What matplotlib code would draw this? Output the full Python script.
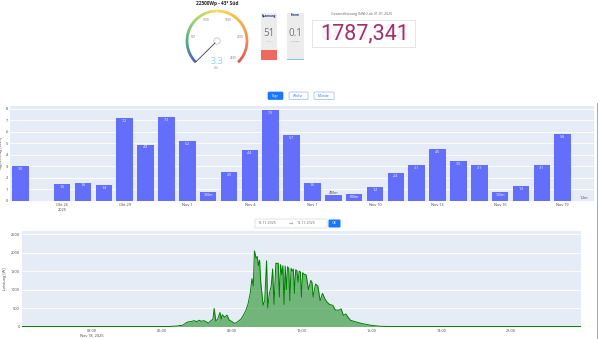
import matplotlib
matplotlib.use('Agg')
import matplotlib.pyplot as plt
import numpy as np
import pandas as pd
from matplotlib.patches import Rectangle, FancyBboxPatch, Circle
from matplotlib.collections import LineCollection
from matplotlib.colors import LinearSegmentedColormap

plt.rcParams['font.family'] = ['Open Sans', 'DejaVu Sans']

# ---------------- data ----------------
plant_title = "22500Wp - 43° Süd"
gauge_value = 3.3
gauge_max = 2500
gauge_ticks = [500, 1000, 1500, 2000, 2500]
voltage = "51"
current = "0.1"
total_label = "Gesamtleistung (kWh) ab 01.01.2025"
total_value = "1787,341"
buttons = ["Tage", "Woche", "Monate"]
date_from = "18.11.2025"
date_to = "18.11.2025"

days = pd.date_range("2025-10-24", periods=28, freq="D")
daily_kwh = [3.0, np.nan, 1.5, 1.6, 1.4, 7.2, 4.9, 7.3, 5.2, 0.76, 2.5, 4.4, 7.9, 5.7,
             1.6, 0.48, 0.6, 1.2, 2.4, 3.1, 4.5, 3.5, 3.1, 0.75, 1.3, 3.1, 5.8, 0.0012]
month_de = {10: "Okt", 11: "Nov"}

power_hours = [0.0, 6.3, 6.6, 6.9, 7.1, 7.3, 7.4, 7.5, 7.6, 7.7, 7.8, 7.9, 8.0, 8.1, 8.2,
               8.25, 8.32, 8.4, 8.5, 8.55, 8.6, 8.7, 8.8, 8.9, 9.0, 9.1, 9.2, 9.3, 9.4,
               9.5, 9.6, 9.7, 9.8, 9.87, 9.93, 9.98, 10.05, 10.1, 10.15, 10.2, 10.25,
               10.3, 10.35, 10.42, 10.5, 10.55, 10.62, 10.7, 10.76, 10.82, 10.9, 10.95,
               11.0, 11.05, 11.1, 11.15, 11.2, 11.25, 11.3, 11.35, 11.4, 11.45, 11.5,
               11.55, 11.6, 11.65, 11.7, 11.75, 11.8, 11.85, 11.9, 11.95, 12.0, 12.05,
               12.1, 12.2, 12.3, 12.4, 12.45, 12.5, 12.6, 12.7, 12.8, 12.9, 13.0, 13.1,
               13.2, 13.35, 13.45, 13.6, 13.7, 13.8, 13.9, 14.0, 14.1, 14.3, 14.6, 15.0,
               15.4, 15.7, 24.0]
power_watt = [0, 0, 10, 35, 120, 140, 160, 130, 170, 140, 160, 130, 90, 150, 200,
              490, 150, 200, 380, 200, 320, 250, 310, 170, 140, 90, 100, 150, 200,
              300, 420, 600, 900, 1300, 1100, 2050, 1850, 1900, 1650, 1800, 1200,
              900, 580, 700, 1780, 500, 900, 1100, 1560, 600, 1720, 1700,
              1720, 800, 1680, 1400, 1650, 600, 1640, 1000, 1620, 1580, 700,
              1580, 1500, 1560, 900, 1540, 1520, 1200, 1500, 1480, 800, 1460,
              1420, 1400, 1000, 1250, 1200, 800, 1150, 1100, 700, 900, 750, 660,
              600, 570, 450, 440, 480, 300, 340, 250, 170, 130, 80, 30,
              5, 0, 0]

# ---------------- figure ----------------
W, H = 600, 339
fig = plt.figure(figsize=(6, 3.39), dpi=100)
fig.patch.set_facecolor('white')


def rect(x0, y0, x1, y1):
    return [x0 / W, 1 - y1 / H, (x1 - x0) / W, (y1 - y0) / H]


ov = fig.add_axes([0, 0, 1, 1])
ov.set_xlim(0, W)
ov.set_ylim(H, 0)
ov.axis('off')
ov.patch.set_alpha(0)

# ---- gauge ----
cx, cy, R = 217, 41, 30
ov.text(cx, 3.5, plant_title, ha='center', va='center', fontsize=3.4,
        fontweight='bold', color='#222')
cmap = LinearSegmentedColormap.from_list(
    'g', ['#1a28b8', '#1a9a5a', '#8cc63f', '#f2d41a', '#f5a000', '#f26522', '#e01818'])
angs = np.linspace(225, -45, 240)
pts = np.column_stack([cx + R * np.cos(np.radians(angs)), cy - R * np.sin(np.radians(angs))])
segs = np.stack([pts[:-1], pts[1:]], axis=1)
lc = LineCollection(segs, colors=cmap(np.linspace(0, 1, len(segs))), linewidths=1.9,
                    capstyle='butt')
ov.add_collection(lc)
for t in gauge_ticks:
    a = np.radians(225 - 270 * t / gauge_max)
    ov.text(cx + 23.5 * np.cos(a), cy - 23.5 * np.sin(a), str(t), ha='center',
            va='center', fontsize=2.2, color='#777')
na = np.radians(225 - 270 * gauge_value / gauge_max)
ov.plot([cx + 3 * np.cos(na), cx + 29 * np.cos(na)],
        [cy - 3 * np.sin(na), cy - 29 * np.sin(na)], color='#3a3a4a', lw=0.6)
ov.add_patch(Circle((cx, cy), 3.2, facecolor='white', edgecolor='#aaa', lw=0.4))
ov.text(cx, 61.5, f"{gauge_value:.1f}", ha='center', va='center', fontsize=6.5,
        color='#8fd3ee')
ov.text(cx, 68, "Watt", ha='center', va='center', fontsize=1.8, color='#999')

# ---- Spannung / Strom boxes ----
for (x0, title, val, unit, barcol, barh) in [
        (260.5, "Spannung", voltage, "Volt", '#ef6a5c', 10),
        (286.7, "Strom", current, "Ampere", '#8ec6ea', 1.2)]:
    ov.add_patch(Rectangle((x0, 12.5), 16.8, 47.5, facecolor='#ececec', edgecolor='none'))
    ov.add_patch(Rectangle((x0, 60 - barh), 16.8, barh, facecolor=barcol, edgecolor='none'))
    ov.text(x0 + 8.4, 15.5, title, ha='center', va='center', fontsize=2.1,
            fontweight='bold', color='#1b2a66')
    ov.text(x0 + 8.4, 34, val, ha='center', va='center', fontsize=7, color='#777')
    ov.text(x0 + 8.4, 41.5, unit, ha='center', va='center', fontsize=1.6, color='#999')

# ---- total display ----
ov.text(362, 14.5, total_label, ha='center', va='center', fontsize=2.6, color='#666')
ov.add_patch(Rectangle((311.7, 19.5), 103.3, 27, facecolor='white', edgecolor='#e2e2e2',
                       lw=0.6))
seg_font = dict(family=['Roboto', 'DejaVu Sans'], fontweight='normal', fontsize=15.5)
ov.text(365, 33.5, "8888,888", ha='center', va='center', color='#f6eef2', **seg_font)
ov.text(365, 33.5, total_value, ha='center', va='center', color='#a2306a', **seg_font)

# ---- buttons ----
bx = [(268, 283), (289, 308), (314, 334)]
for (x0, x1), lab in zip(bx, buttons):
    active = lab == "Tage"
    ov.add_patch(FancyBboxPatch((x0, 92), x1 - x0, 7.5, boxstyle='round,pad=0,rounding_size=1',
                                facecolor='#1677ff' if active else 'white',
                                edgecolor='#1677ff' if active else '#8fb8f0', lw=0.5))
    ov.text((x0 + x1) / 2, 95.8, lab, ha='center', va='center', fontsize=2.3,
            color='white' if active else '#2f6fd0')

# ---- date picker ----
ov.add_patch(FancyBboxPatch((255, 219), 72, 9, boxstyle='round,pad=0,rounding_size=1',
                            facecolor='white', edgecolor='#d9d9d9', lw=0.5))
ov.text(258, 223.5, date_from, ha='left', va='center', fontsize=2.6, color='#666')
ov.text(291, 223.5, "→", ha='center', va='center', fontsize=3.5, color='#888')
ov.text(297, 223.5, date_to, ha='left', va='center', fontsize=2.6, color='#666')
ov.add_patch(FancyBboxPatch((328.5, 219.5), 12, 8, boxstyle='round,pad=0,rounding_size=1',
                            facecolor='#1677ff', edgecolor='none'))
ov.text(334.5, 223.5, "OK", ha='center', va='center', fontsize=2.4, color='white')

# scroll line
ov.plot([596.5, 596.5], [103, 339], color='#9a9a9a', lw=0.6)

# ---------------- bar chart ----------------
ax1 = fig.add_axes(rect(10, 106, 594, 201))
ax1.set_facecolor('#e5ecf6')
x = np.arange(len(days))
vals = np.array(daily_kwh, dtype=float)
ax1.bar(x, np.nan_to_num(vals), width=0.8, color='#636efa', zorder=2)
for i, v in enumerate(vals):
    if np.isnan(v):
        continue
    if v >= 1:
        lab = f"{v:.1f}"
    elif v * 1000 >= 10:
        lab = f"{v * 1000:.0f}m"
    else:
        lab = f"{v * 1000:.1f}m"
    if v >= 0.55:
        ax1.text(i, v - 0.25, lab, ha='center', va='center', fontsize=2.6, color='white',
                 zorder=3)
    else:
        ax1.text(i, v + 0.08, lab, ha='center', va='bottom', fontsize=2.6, color='#444',
                 zorder=3)
ax1.set_xlim(-0.5, len(days) - 0.5)
ax1.set_ylim(0, 8.25)
ax1.set_yticks(range(0, 9))
tick_idx = [i for i, d in enumerate(days) if (d - pd.Timestamp("2025-10-26")).days % 3 == 0
            and d >= pd.Timestamp("2025-10-26")]
tick_lab = []
for k, i in enumerate(tick_idx):
    d = days[i]
    s = f"{month_de[d.month]} {d.day}"
    if k == 0:
        s += f"\n{d.year}"
    tick_lab.append(s)
ax1.set_xticks(tick_idx)
ax1.set_xticklabels(tick_lab)
ax1.grid(axis='y', color='white', lw=0.6)
ax1.set_axisbelow(True)
for s in ax1.spines.values():
    s.set_visible(False)
ax1.tick_params(length=0, labelsize=2.8, colors='#444', pad=1.5)
ax1.set_ylabel("Tagesertrag [kWh]", fontsize=2.8, color='#444', labelpad=2)

# ---------------- power chart ----------------
ax2 = fig.add_axes(rect(22, 231, 581, 326.5))
ax2.set_facecolor('#e5ecf6')
ax2.fill_between(power_hours, power_watt, 0, color='#008000', alpha=0.5, lw=0, zorder=2)
ax2.plot(power_hours, power_watt, color='#008000', lw=0.7, zorder=3)
ax2.set_xlim(0, 24)
ax2.set_ylim(0, 2590)
ax2.set_yticks(range(0, 2501, 500))
hticks = list(range(3, 22, 3))
ax2.set_xticks(hticks)
ax2.set_xticklabels([f"{h:02d}:00" + ("\nNov 18, 2025" if h == 3 else "") for h in hticks])
ax2.grid(axis='y', color='white', lw=0.6)
ax2.set_axisbelow(True)
for s in ax2.spines.values():
    s.set_visible(False)
ax2.tick_params(length=0, labelsize=2.8, colors='#444', pad=1.5)
ax2.set_ylabel("Leistung [W]", fontsize=2.8, color='#444', labelpad=3)

fig.savefig('out.png', dpi=100)
